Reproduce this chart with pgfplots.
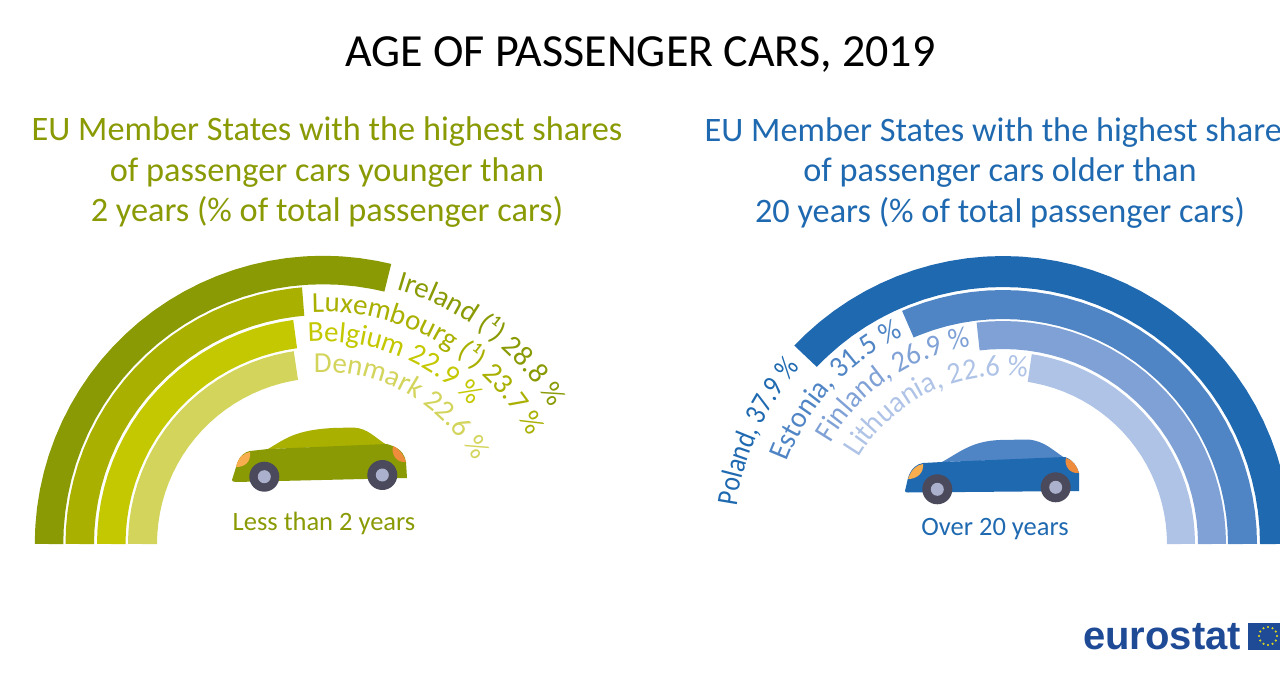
\documentclass[border=0pt]{standalone}
\usepackage{pgfplots}
\pgfplotsset{compat=1.18}
\usepackage{pgfplotstable}
\usepackage{fontspec}
\setmainfont{Carlito}
\newfontfamily\logofont{Liberation Sans}[Scale=1]
\newfontfamily\narrowfont{Carlito}[FakeStretch=0.86]
\newfontfamily\midfont{Carlito}[FakeStretch=0.95]
\usetikzlibrary{decorations.text}
\definecolor{gA}{HTML}{8A9A05}
\definecolor{gB}{HTML}{A9B000}
\definecolor{gC}{HTML}{C4C800}
\definecolor{gD}{HTML}{D3D45C}
\definecolor{bA}{HTML}{1F69B0}
\definecolor{bB}{HTML}{5085C5}
\definecolor{bC}{HTML}{7FA1D6}
\definecolor{bD}{HTML}{AFC3E7}
\definecolor{logoblue}{HTML}{1F4A96}
\definecolor{tire}{HTML}{4A4A5C}
\definecolor{hub}{HTML}{ABB1CC}
\definecolor{lampA}{HTML}{F8AE4E}
\definecolor{lampB}{HTML}{EF8C3C}
\pgfplotstableread[row sep=\\]{p\\0\\0.05\\1\\2\\3\\4\\5\\6\\7\\8\\9\\10\\11\\12\\13\\14\\15\\16\\17\\18\\19\\20\\21\\22\\23\\24\\25\\26\\27\\28\\28.75\\28.8\\}\Ireland
\pgfplotstableread[row sep=\\]{p\\0\\0.05\\1\\2\\3\\4\\5\\6\\7\\8\\9\\10\\11\\12\\13\\14\\15\\16\\17\\18\\19\\20\\21\\22\\23\\23.65\\23.7\\}\Luxembourg
\pgfplotstableread[row sep=\\]{p\\0\\0.05\\1\\2\\3\\4\\5\\6\\7\\8\\9\\10\\11\\12\\13\\14\\15\\16\\17\\18\\19\\20\\21\\22\\22.85\\22.9\\}\Belgium
\pgfplotstableread[row sep=\\]{p\\0\\0.05\\1\\2\\3\\4\\5\\6\\7\\8\\9\\10\\11\\12\\13\\14\\15\\16\\17\\18\\19\\20\\21\\22\\22.55\\22.6\\}\Denmark
\pgfplotstableread[row sep=\\]{p\\0\\0.05\\1\\2\\3\\4\\5\\6\\7\\8\\9\\10\\11\\12\\13\\14\\15\\16\\17\\18\\19\\20\\21\\22\\23\\24\\25\\26\\27\\28\\29\\30\\31\\32\\33\\34\\35\\36\\37\\37.85\\37.9\\}\Poland
\pgfplotstableread[row sep=\\]{p\\0\\0.05\\1\\2\\3\\4\\5\\6\\7\\8\\9\\10\\11\\12\\13\\14\\15\\16\\17\\18\\19\\20\\21\\22\\23\\24\\25\\26\\27\\28\\29\\30\\31\\31.45\\31.5\\}\Estonia
\pgfplotstableread[row sep=\\]{p\\0\\0.05\\1\\2\\3\\4\\5\\6\\7\\8\\9\\10\\11\\12\\13\\14\\15\\16\\17\\18\\19\\20\\21\\22\\23\\24\\25\\26\\26.85\\26.9\\}\Finland
\pgfplotstableread[row sep=\\]{p\\0\\0.05\\1\\2\\3\\4\\5\\6\\7\\8\\9\\10\\11\\12\\13\\14\\15\\16\\17\\18\\19\\20\\21\\22\\22.55\\22.6\\}\Lithuania
% left half-ring: clockwise from 180 degrees; right: counter-clockwise from 0
\newcommand\ringL[4]{\addplot[no markers,line join=round,color=#1,line width=#3pt] table[x index=0,y index=0,x expr={323-#2*cos(3.6*\thisrow{p})},y expr={544-#2*sin(3.6*\thisrow{p})}] {#4};}
\newcommand\ringR[4]{\addplot[no markers,line join=round,color=#1,line width=#3pt] table[x index=0,y index=0,x expr={1003+#2*cos(3.6*\thisrow{p})},y expr={544-#2*sin(3.6*\thisrow{p})}] {#4};}
\newcommand\lbl{\fontsize{29}{29}\selectfont}
\newcommand\lblN{\narrowfont\fontsize{30}{30}\selectfont}
\newcommand\lblM{\midfont\fontsize{30}{30}\selectfont}
\newcommand\curved[7][\lbl]{\path[decorate,decoration={text along path,text={|#1\color{#2}|#3}}] ([shift={(#5:#6pt)}]axis cs:#4) arc[start angle=#5,end angle=#7,radius=#6pt];}
\begin{document}
\begin{tikzpicture}
\useasboundingbox (0,0) rectangle (1280pt,674pt);
\begin{axis}[at={(0,0)},anchor=south west,width=1280pt,height=674pt,scale only axis,
  xmin=0,xmax=1280,ymin=0,ymax=674,y dir=reverse,hide axis,clip=true]
\ringL{gA}{274}{28.5}{\Ireland}
\ringL{gB}{243.25}{28.5}{\Luxembourg}
\ringL{gC}{211.75}{28.5}{\Belgium}
\ringL{gD}{180.5}{29}{\Denmark}
\ringR{bA}{272.5}{31}{\Poland}
\ringR{bB}{239.5}{29}{\Estonia}
\ringR{bC}{209}{28}{\Finland}
\ringR{bD}{178}{28}{\Lithuania}
% EU flag stars
\fill[logoblue] (axis cs:1248,623) rectangle (axis cs:1280,649.5);
\addplot[only marks,mark=*,mark size=0.9pt,color=yellow!85!black] coordinates {(1277,636)(1275.8,631.5)(1272.5,628.2)(1268,627)(1263.5,628.2)(1260.2,631.5)(1259,636)(1260.2,640.5)(1263.5,643.8)(1268,645)(1272.5,643.8)(1275.8,640.5)};
% titles
\node[anchor=base,font=\fontsize{46}{46}\selectfont] at (axis cs:640.5,66.5) {AGE OF PASSENGER CARS, 2019};
\node[anchor=base,color=gA,font=\fontsize{34.3}{34.3}\selectfont] at (axis cs:327,141) {EU Member States with the highest shares};
\node[anchor=base,color=gA,font=\fontsize{34.3}{34.3}\selectfont] at (axis cs:327,181.5) {of passenger cars younger than};
\node[anchor=base,color=gA,font=\fontsize{34.3}{34.3}\selectfont] at (axis cs:327,221.5) {2 years (\% of total passenger cars)};
\node[anchor=base,color=bA,font=\fontsize{34.3}{34.3}\selectfont] at (axis cs:1000,142) {EU Member States with the highest shares};
\node[anchor=base,color=bA,font=\fontsize{34.3}{34.3}\selectfont] at (axis cs:1000,182) {of passenger cars older than};
\node[anchor=base,color=bA,font=\fontsize{34.3}{34.3}\selectfont] at (axis cs:1000,222) {20 years (\% of total passenger cars)};
\node[anchor=base,color=gA,font=\fontsize{26.5}{26.5}\selectfont] at (axis cs:324,530) {Less than 2 years};
\node[anchor=base,color=bA,font=\fontsize{26.5}{26.5}\selectfont] at (axis cs:995,535) {Over 20 years};
\node[anchor=base east,color=logoblue,font=\logofont\bfseries\fontsize{40}{40}\selectfont] at (axis cs:1244.5,649) {eurostat};
% curved labels
\curved{gA}{Ireland (¹) 28.8 {\%}}{323,544}{74}{265}{-10}
\curved{gB}{Luxembourg (¹) 23.7 {\%}}{323,544}{92.7}{232}{-10}
\curved{gC}{Belgium 22.9 {\%}}{323,544}{94.2}{202.5}{-10}
\curved{gD}{Denmark 22.6 {\%}}{323,544}{93}{172}{-10}
\curved[\lblN]{bA}{Poland, 37.9 {\%}}{1003,544}{171.9}{269}{90}
\curved[\lblM]{bB}{Estonia, 31.5 {\%}}{1003,544}{159.2}{231}{70}
\curved[\lblM]{bC}{Finland, 26.9 {\%}}{1003,544}{149.7}{200}{60}
\curved[\lblM]{bD}{Lithuania, 22.6 {\%}}{1003,544}{149.2}{168}{50}
% left car
\fill[gB] (axis cs:268,449) .. controls (axis cs:285,439) and (axis cs:295,430) .. (axis cs:333,428) -- (axis cs:353,427.5) .. controls (axis cs:368,428) and (axis cs:375,438) .. (axis cs:387,445) -- cycle;
\fill[gA] (axis cs:232,480) -- (axis cs:237,464) .. controls (axis cs:240,455) and (axis cs:245,452) .. (axis cs:250,451) -- (axis cs:268,449) -- (axis cs:387,444) -- (axis cs:393,446) .. controls (axis cs:402,450) and (axis cs:405,456) .. (axis cs:406,462) -- (axis cs:407,478) -- (axis cs:236,482) .. controls (axis cs:233,482) and (axis cs:232,481) .. cycle;
\fill[lampA] (axis cs:236,467) .. controls (axis cs:238,457) and (axis cs:244,453) .. (axis cs:250,452) .. controls (axis cs:251,462) and (axis cs:245,467) .. cycle;
\fill[lampB] (axis cs:393,446) .. controls (axis cs:400,449) and (axis cs:404,456) .. (axis cs:406,462) .. controls (axis cs:396,463) and (axis cs:391,454) .. cycle;
\fill[tire] (axis cs:264.3,476.7) circle[radius=15pt];
\fill[hub] (axis cs:264.3,476.7) circle[radius=6.5pt];
\fill[tire] (axis cs:382.3,475) circle[radius=15pt];
\fill[hub] (axis cs:382.3,475) circle[radius=6.5pt];
% right car
\fill[bB] (axis cs:942,462) .. controls (axis cs:960,452) and (axis cs:972,441) .. (axis cs:1000,440) -- (axis cs:1028,439.5) .. controls (axis cs:1045,441) and (axis cs:1052,450) .. (axis cs:1065,458) -- cycle;
\fill[bA] (axis cs:905,491) -- (axis cs:908,478) .. controls (axis cs:911,468) and (axis cs:917,464) .. (axis cs:923,463) -- (axis cs:942,462) -- (axis cs:1065,457) .. controls (axis cs:1073,460) and (axis cs:1077,466) .. (axis cs:1079,473) -- (axis cs:1079,491) -- (axis cs:908,492.5) .. controls (axis cs:906,492.5) and (axis cs:905,492) .. cycle;
\fill[lampA] (axis cs:908,479) .. controls (axis cs:911,470) and (axis cs:916,465) .. (axis cs:923,464) .. controls (axis cs:924,473) and (axis cs:917,479) .. cycle;
\fill[lampB] (axis cs:1066,458) .. controls (axis cs:1073,460) and (axis cs:1077,466) .. (axis cs:1079,473) .. controls (axis cs:1069,474) and (axis cs:1064,465) .. cycle;
\fill[tire] (axis cs:937.3,489.3) circle[radius=15pt];
\fill[hub] (axis cs:937.3,489.3) circle[radius=6.5pt];
\fill[tire] (axis cs:1055.7,487.3) circle[radius=15pt];
\fill[hub] (axis cs:1055.7,487.3) circle[radius=6.5pt];
\end{axis}
\end{tikzpicture}
\end{document}
